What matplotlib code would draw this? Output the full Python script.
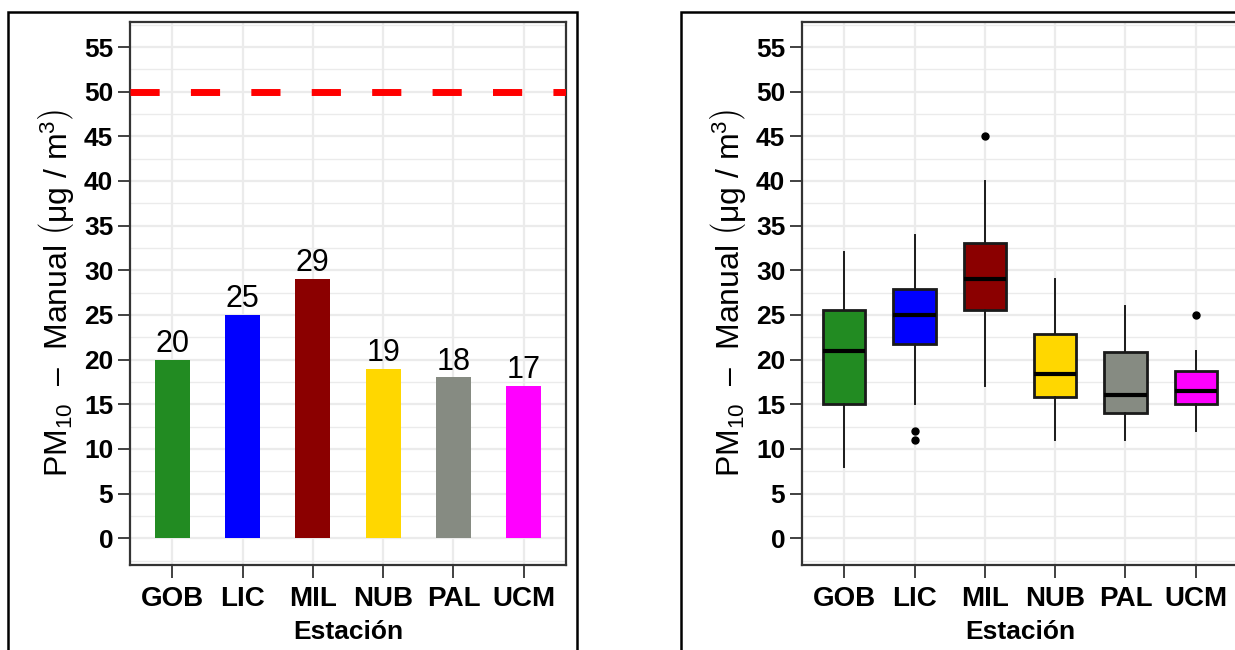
import matplotlib
matplotlib.use("Agg")
import matplotlib.pyplot as plt
from matplotlib.patches import Rectangle

plt.rcParams['font.family'] = ['Liberation Sans', 'DejaVu Sans']
plt.rcParams['mathtext.fontset'] = 'custom'
plt.rcParams['mathtext.rm'] = 'Liberation Sans'
plt.rcParams['mathtext.it'] = 'Liberation Sans:italic'
plt.rcParams['mathtext.bf'] = 'Liberation Sans:bold'

stations = ["GOB", "LIC", "MIL", "NUB", "PAL", "UCM"]
means = [20, 25, 29, 19, 18, 17]
colors = ["#228B22", "#0000FF", "#8B0000", "#FFD700", "#868B82", "#FF00FF"]
limit_value = 50

# boxplot statistics
whislo = [8, 15, 17, 11, 11, 12]
q1 = [15, 21.8, 25.5, 15.8, 14, 15]
med = [21, 25, 29, 18.4, 16, 16.5]
q3 = [25.6, 27.9, 33.1, 22.9, 20.8, 18.7]
whishi = [32, 34, 40, 29, 26, 21]
fliers = [[], [12, 11], [45], [], [], [25]]

yticks = list(range(0, 60, 5))
ylabel = r"PM$_{10}$  –  Manual $\left(\mathrm{\mu g\ /\ m^{3}}\right)$"
xlabel = "Estación"

W, H = 1235, 650
fig = plt.figure(figsize=(W / 100, H / 100), dpi=100)


def style(ax):
    ax.set_xlim(0.4, 6.6)
    ax.set_ylim(-3.0, 57.8)
    ax.set_yticks(yticks)
    ax.set_yticks([y + 2.5 for y in range(-5, 60, 5)], minor=True)
    ax.set_xticks(range(1, 7))
    ax.set_xticklabels(stations)
    ax.grid(True, which='major', color='#EBEBEB', lw=1.6)
    ax.grid(True, which='minor', axis='y', color='#EBEBEB', lw=1.0)
    ax.set_axisbelow(True)
    ax.tick_params(axis='both', which='major', length=9, width=1.3, color='#333333',
                   labelcolor='black')
    ax.tick_params(axis='y', which='major', labelsize=19, pad=3)
    ax.tick_params(axis='x', which='major', labelsize=20, pad=6)
    ax.tick_params(axis='y', which='minor', length=0)
    for lab in ax.get_xticklabels() + ax.get_yticklabels():
        lab.set_fontweight('bold')
    for s in ax.spines.values():
        s.set_color('#333333')
        s.set_linewidth(1.6)
    ax.set_ylabel(ylabel, fontsize=23, labelpad=6)
    ax.set_xlabel(xlabel, fontsize=19, fontweight='bold', labelpad=6)


pos = list(range(1, 7))

# left panel: bars
ax1 = fig.add_axes([130 / W, 1 - 565 / H, 436 / W, 543 / H])
style(ax1)
ax1.bar(pos, means, width=0.5, color=colors, zorder=2)
for x, v in zip(pos, means):
    ax1.text(x, v + 0.1, str(v), ha='center', va='bottom', fontsize=22, zorder=3)
hl = ax1.axhline(limit_value, color='#FF0000', lw=5, zorder=3)
hl.set_dashes((4.2, 4.5))
hl.set_dash_capstyle('butt')

# right panel: boxplots
ax2 = fig.add_axes([802 / W, 1 - 565 / H, 436 / W, 543 / H])
stats = []
for i in range(6):
    stats.append(dict(whislo=whislo[i], q1=q1[i], med=med[i], q3=q3[i],
                      whishi=whishi[i], fliers=fliers[i], label=stations[i]))
bp = ax2.bxp(stats, positions=pos, widths=0.6, patch_artist=True, showcaps=False,
             boxprops=dict(edgecolor='#1a1a1a', linewidth=2.0),
             medianprops=dict(color='black', linewidth=3.0),
             whiskerprops=dict(color='#1a1a1a', linewidth=1.4),
             flierprops=dict(marker='o', markerfacecolor='black', markeredgecolor='black',
                             markersize=5))
for patch, c in zip(bp['boxes'], colors):
    patch.set_facecolor(c)
style(ax2)

# outer frames of the two panels
for x0, x1 in [(8, 577), (681, 1300)]:
    fig.patches.append(Rectangle((x0 / W, -0.1), (x1 - x0) / W, 1.1 - 12 / H,
                                 transform=fig.transFigure, fill=False,
                                 edgecolor='black', lw=1.8))

fig.savefig("out.png", dpi=100)
